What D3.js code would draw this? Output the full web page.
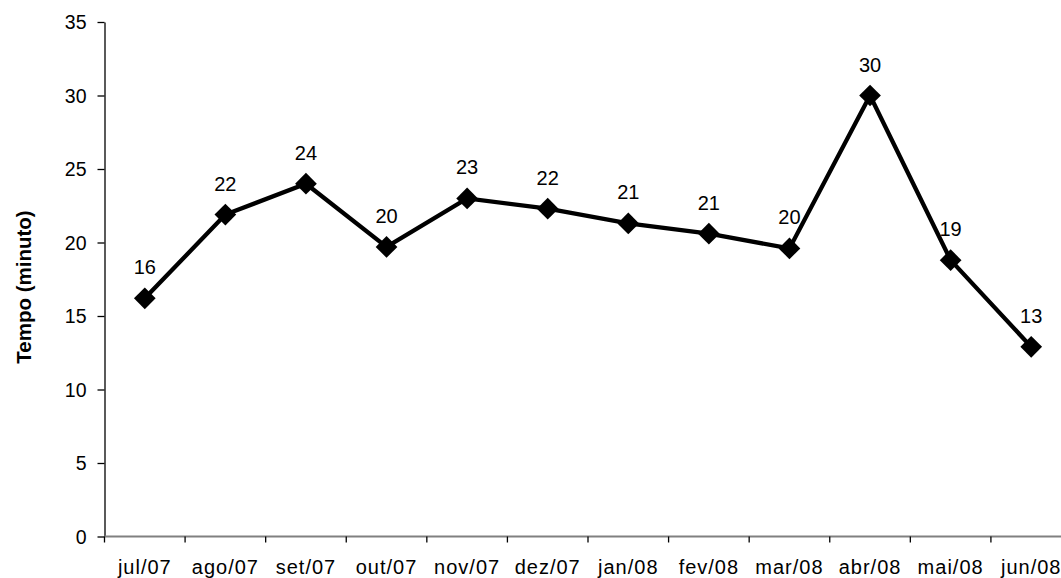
<!DOCTYPE html>
<html>
<head>
<meta charset="utf-8">
<script src="https://cdn.jsdelivr.net/npm/d3@7"></script>
<style>
  html, body { margin: 0; padding: 0; background: #fff; }
  svg { display: block; }
  text { font-family: "Liberation Sans", Arial, sans-serif; fill: #000; }
</style>
</head>
<body>
<svg id="chart" width="1061" height="578"></svg>
<script>
const categories = ["jul/07","ago/07","set/07","out/07","nov/07","dez/07","jan/08","fev/08","mar/08","abr/08","mai/08","jun/08"];
const values = [16.2, 21.9, 24.0, 19.7, 23.0, 22.3, 21.3, 20.6, 19.6, 30.0, 18.8, 12.9];
const yTicks = [0, 5, 10, 15, 20, 25, 30, 35];
const yTitle = "Tempo (minuto)";

const svg = d3.select("#chart");
const margin = { left: 104.5, right: -10.5, top: 22, bottom: 41.5 };
const W = 1061, H = 578;
const x0 = margin.left, x1 = W - margin.right;
const yTop = margin.top, yBot = H - margin.bottom;

const x = d3.scaleBand().domain(categories).range([x0, x1]).paddingInner(0).paddingOuter(0);
const y = d3.scaleLinear().domain([0, 35]).range([yBot, yTop]);

// Y axis
const yAxis = d3.axisLeft(y).tickValues(yTicks).tickSize(7).tickPadding(11).tickSizeOuter(0);
const gy = svg.append("g").attr("transform", `translate(${x0},0)`).call(yAxis);
gy.attr("font-family", null).attr("font-size", null);
gy.select(".domain").attr("stroke", "#000").attr("stroke-width", 1.3);
gy.selectAll(".tick line").attr("stroke", "#000").attr("stroke-width", 1.3);
gy.selectAll(".tick text").style("font-size", "19.5px").attr("dy", "0.35em");

// X axis (ticks at band boundaries)
const gx = svg.append("g").attr("transform", `translate(0,${yBot})`);
gx.append("line").attr("x1", x0).attr("x2", x1).attr("y1", 0).attr("y2", 0)
  .attr("stroke", "#808080").attr("stroke-width", 2);
gx.selectAll("line.tk").data(categories).join("line").attr("class", "tk")
  .attr("x1", d => x(d)).attr("x2", d => x(d)).attr("y1", 0).attr("y2", 6)
  .attr("stroke", "#000").attr("stroke-width", 1.3);
gx.selectAll("text.lbl").data(categories).join("text").attr("class", "lbl")
  .attr("x", d => x(d) + x.bandwidth() / 2).attr("y", 37.5)
  .attr("text-anchor", "middle").style("font-size", "20px").style("letter-spacing", "1px")
  .text(d => d);

// Y title
svg.append("text")
  .attr("transform", `translate(31, 287) rotate(-90)`)
  .attr("text-anchor", "middle")
  .style("font-size", "20.5px").style("font-weight", "bold")
  .text(yTitle);

const data = categories.map((c, i) => ({ c, v: values[i] }));
const cx = d => x(d.c) + x.bandwidth() / 2;

// line
svg.append("path").datum(data)
  .attr("d", d3.line().x(cx).y(d => y(d.v)))
  .attr("fill", "none").attr("stroke", "#000").attr("stroke-width", 4.3).attr("stroke-linejoin", "miter");

// markers
svg.selectAll("path.mk").data(data).join("path").attr("class", "mk")
  .attr("transform", d => `translate(${cx(d)},${y(d.v)})`)
  .attr("d", d3.symbol().type(d3.symbolDiamond2).size(300))
  .attr("fill", "#000");

// data labels
svg.selectAll("text.dl").data(data).join("text").attr("class", "dl")
  .attr("x", cx).attr("y", d => y(d.v) - 24)
  .attr("text-anchor", "middle").style("font-size", "20px")
  .text(d => Math.round(d.v));
</script>
</body>
</html>
